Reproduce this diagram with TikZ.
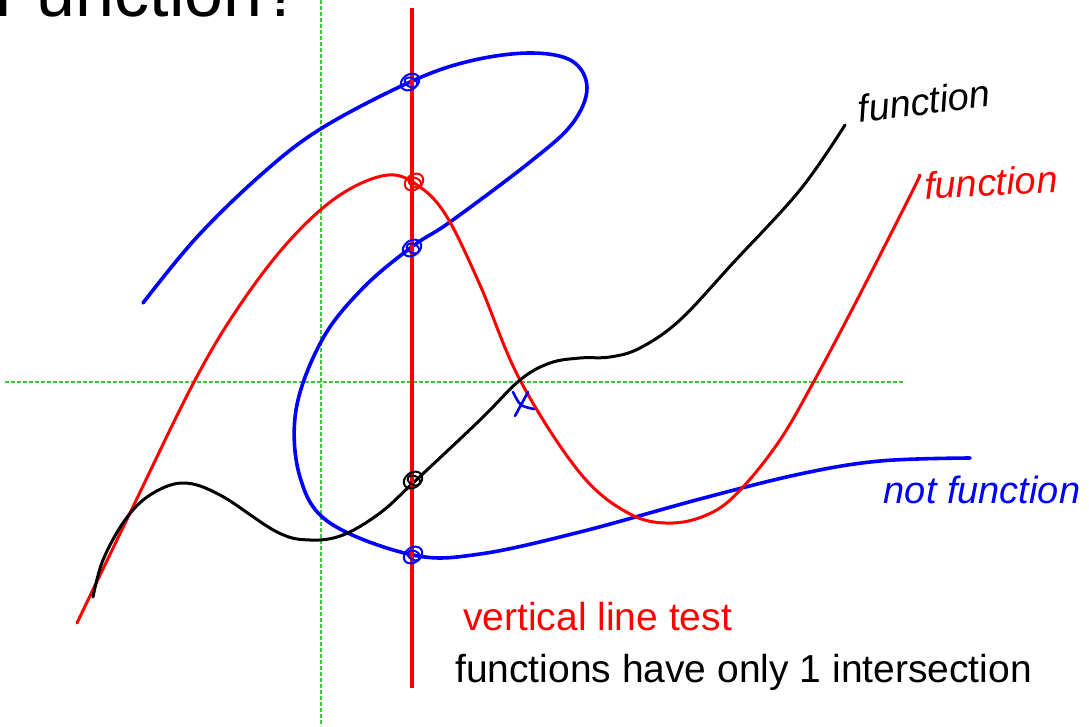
\documentclass[tikz,border=0pt]{standalone}
\usepackage{fontspec}
\setmainfont{Liberation Sans}
\begin{document}
\begin{tikzpicture}[x=1pt,y=-1pt,
  guide/.style={draw={rgb,255:red,60;green,200;blue,60},line width=1.2pt,dash pattern=on 4pt off 2pt},
  bluec/.style={draw={rgb,255:red,0;green,0;blue,255},line width=3.6pt,line cap=round,line join=round},
  redc/.style={draw={rgb,255:red,255;green,0;blue,0},line width=3pt,line cap=round,line join=round},
  blackc/.style={draw=black,line width=3pt,line cap=round,line join=round},
  scrib/.style={line width=2pt},
  hand/.style={font=\fontsize{38}{38}\selectfont\itshape,inner sep=0pt}]
\useasboundingbox (0,0) rectangle (1089,726);
\clip (0,0) rectangle (1089,726);
% title
\node[anchor=base west,inner sep=0pt,font=\fontsize{70}{70}\selectfont] (title) at (-6,16) {Function?};
% guide axes
\draw[guide] (321,0) -- (321,726);
\draw[guide] (5,382) -- (905,382);
% blue curve (not function)
\draw[bluec] plot[smooth,tension=0.6] coordinates {(143,303) (197,237) (263,173) (322,128) (410,82) (470,61) (530,53) (572,61) (587,88) (572,124) (530,162) (450,222) (413,246) (363,288) (322,340) (296,410) (300,477) (330,523) (413,555) (480,554) (580,532) (700,499) (800,474) (880,461) (970,458)};
% red curve
\draw[redc] plot[smooth,tension=0.6] coordinates {(77,623) (130,513) (194,382) (240,305) (290,240) (340,195) (388,175) (420,187) (447,217) (480,285) (520,380) (580,473) (630,514) (673,523) (713,512) (743,487) (780,440) (813,383) (857,300) (913,190) (919,176)};
% black curve
\draw[blackc] plot[smooth,tension=0.6] coordinates {(93,597) (103,560) (125,520) (150,495) (183,483) (220,495) (277,532) (310,540) (343,535) (380,513) (413,483) (480,420) (520,380) (550,363) (580,358) (610,357) (640,348) (680,320) (733,263) (800,190) (845,125)};
% vertical line test
\draw[draw={rgb,255:red,255;green,0;blue,0},line width=3.4pt] (412,8) -- (412,688);
% intersection scribbles
\foreach \px/\py/\col in {410/82/blue,414/182/red,412/248/blue,413/480/black,413/555/blue}{
  \draw[scrib,draw=\col,rotate around={35:(\px,\py)}] (\px,\py) ellipse (10 and 7.5);
  \draw[scrib,draw=\col,rotate around={-25:(\px,\py)}] (\px+1,\py) ellipse (6.5 and 4.5);
}
% x mark
\draw[draw=blue,line width=2.6pt,line cap=round] (513,392) .. controls (520,406) .. (534,409);
\draw[draw=blue,line width=2.6pt,line cap=round] (528,392) -- (515,416);
% labels
\node[hand,text=black,rotate=7] (lblack) at (924,101) {function};
\node[hand,text={rgb,255:red,255;green,0;blue,0},rotate=3] (lred) at (991,182) {function};
\node[hand,text=blue] (lblue) at (982,490) {not function};
\node[anchor=base west,inner sep=0pt,text={rgb,255:red,255;green,0;blue,0},font=\fontsize{39}{39}\selectfont] (vlt) at (463,630) {vertical line test};
\node[anchor=base west,inner sep=0pt,font=\fontsize{39}{39}\selectfont] (fho) at (455,682) {functions have only 1 intersection};
\end{tikzpicture}
\end{document}
